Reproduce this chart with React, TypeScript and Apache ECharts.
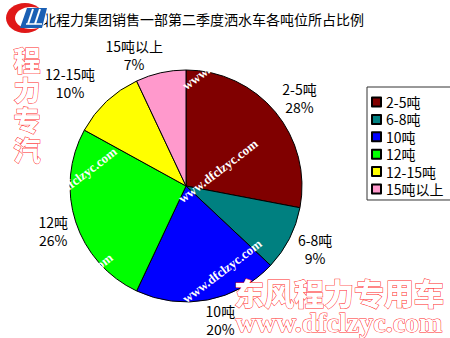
import React, { useEffect, useRef } from "react";
import * as echarts from "echarts";

// Tonnage classes and their share of second-quarter sprinkler truck sales (%)
const categories = ["2-5吨", "6-8吨", "10吨", "12吨", "12-15吨", "15吨以上"];
const shares = [28, 9, 20, 26, 10, 7];
const sliceColors = ["#800000", "#008080", "#0000FF", "#00FF00", "#FFFF00", "#FF99CC"];

const titleText = "湖北程力集团销售一部第二季度洒水车各吨位所占比例";
const brandText = "东风程力专用车";
const brandUrl = "www.dfclzyc.com";
const sideText = "程\n力\n专\n汽";

const CJK = '"Noto Sans CJK SC", "Noto Sans", sans-serif';
const SERIF = '"Liberation Serif", "DejaVu Serif", serif';

// small hand nudges for the slice labels, in slice order
const labelNudges = [[1, 5], [-1, -3], [7, -9], [6, 0], [-16, 3], [-20, 11]];

function watermark(x: number, y: number) {
  return {
    type: "text",
    x,
    y,
    rotation: 0.65,
    z: 100,
    silent: true,
    style: {
      text: brandUrl,
      font: `bold 13px ${SERIF}`,
      fill: "#ffffff",
      align: "center",
      verticalAlign: "middle",
      textAlign: "center",
      textVerticalAlign: "middle",
    },
  };
}

function glowText(text: string, x: number, y: number, font: string, lineHeight?: number) {
  return {
    type: "text",
    x,
    y,
    z: 110,
    silent: true,
    style: {
      text,
      font,
      lineHeight,
      fill: "#ffffff",
      stroke: "#ff2a2a",
      lineWidth: 1,
      shadowColor: "#ff5a5a",
      shadowBlur: 4,
      align: "center",
      verticalAlign: "middle",
      textAlign: "center",
      textVerticalAlign: "middle",
    },
  };
}

export default function App() {
  const ref = useRef<HTMLDivElement>(null);

  useEffect(() => {
    document.body.style.margin = "0";
    if (!ref.current) return;
    const chart = echarts.init(ref.current, undefined, { renderer: "svg" });

    const pieData = categories.map((name, i) => ({ name, value: shares[i] }));
    const labelData = categories.map((name, i) => ({
      name,
      value: shares[i],
      label: { offset: labelNudges[i] },
    }));

    chart.setOption({
      animation: false,
      backgroundColor: "#ffffff",
      color: sliceColors,
      title: {
        text: titleText,
        left: 28,
        top: 12,
        padding: 0,
        textStyle: { fontSize: 14, fontWeight: "normal", color: "#000", fontFamily: CJK },
      },
      legend: {
        data: categories,
        orient: "vertical",
        left: 367,
        top: 87,
        padding: [8, 10, 4, 4],
        itemGap: 3.4,
        itemWidth: 9,
        itemHeight: 9,
        icon: "rect",
        borderColor: "#333",
        borderWidth: 1,
        selectedMode: false,
        textStyle: { fontSize: 14, color: "#000", fontFamily: CJK },
      },
      series: [
        {
          type: "pie",
          center: [186, 186],
          radius: 116,
          startAngle: 90,
          clockwise: true,
          avoidLabelOverlap: false,
          label: { show: false },
          labelLine: { show: false },
          emphasis: { disabled: true },
          itemStyle: { borderColor: "#000", borderWidth: 1 },
          data: pieData,
        },
        {
          // invisible ring that carries the category / percentage labels
          type: "pie",
          center: [186, 186],
          radius: [128, 158],
          startAngle: 90,
          clockwise: true,
          silent: true,
          avoidLabelOverlap: false,
          emphasis: { disabled: true },
          itemStyle: { color: "rgba(0,0,0,0)", borderWidth: 0 },
          labelLine: { show: false },
          label: {
            show: true,
            position: "inside",
            rotate: 0,
            formatter: "{b}\n{d}%",
            fontSize: 14,
            lineHeight: 18,
            color: "#000",
            fontFamily: CJK,
          },
          data: labelData,
        },
      ],
      graphic: [
        // logo
        { type: "ellipse", z: 100, shape: { cx: 25, cy: 18, rx: 19, ry: 15 }, style: { fill: "#e01818" } },
        { type: "ellipse", z: 100, shape: { cx: 31, cy: 18, rx: 16, ry: 11 }, style: { fill: "#ffffff" } },
        {
          type: "polygon",
          z: 101,
          shape: { points: [[27, 8], [47, 8], [42, 28], [20, 28]] },
          style: { fill: "#1a5fb4" },
        },
        { type: "line", z: 102, shape: { x1: 33, y1: 9, x2: 28, y2: 24 }, style: { stroke: "#fff", lineWidth: 2 } },
        { type: "line", z: 102, shape: { x1: 40, y1: 9, x2: 35, y2: 24 }, style: { stroke: "#fff", lineWidth: 2 } },
        { type: "line", z: 102, shape: { x1: 26, y1: 24, x2: 42, y2: 24 }, style: { stroke: "#fff", lineWidth: 1.5 } },
        // diagonal site marks over the pie
        watermark(77, 179),
        watermark(222, 58),
        watermark(218, 171),
        watermark(73, 285),
        watermark(222, 271),
        // brand stamps
        glowText(sideText, 27, 104, `900 27px ${CJK}`, 30),
        glowText(brandText, 339, 292, `900 30px ${CJK}`),
        glowText(brandUrl, 339, 322, `bold 28px ${SERIF}`),
      ],
    });

    return () => chart.dispose();
  }, []);

  return <div ref={ref} style={{ width: 450, height: 338 }} />;
}
